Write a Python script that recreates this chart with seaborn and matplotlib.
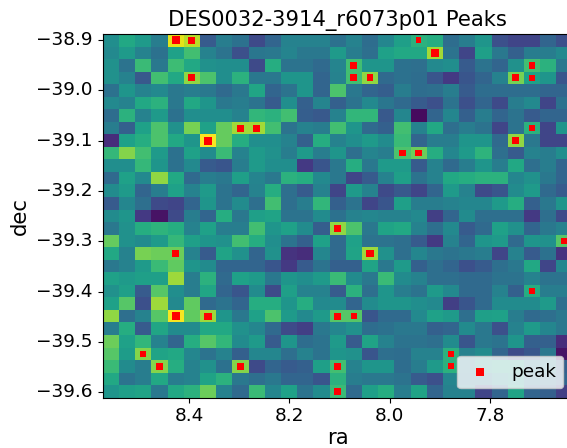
from matplotlib import pyplot as plt
import seaborn as sns
import pandas as pd
import numpy as np

# approximate flux per cell, 0-100 (row 0 is the top)
flux = [
    [47,58,52,40,95,88,26,40,35,20,30,42,42,42, 35,42,33,44,54,62,60,33,40,50,22,18,18,30,22],
    [45,52,42,35,55,68,42,36,22,37,38,43,38,38, 52,40,34,55,58,58,85,36,18,54,38,28,40,40,45],
    [48,36,66,38,67,58,48,47,47,20,60,36,36,32, 43,68,50,50,35,34,45,47,26,36,30,48,68,62,38],
    [48,42,25,68,58,82,70,47,62,38,38,50,50,30, 42,68,82,32,35,33,24,14,24,30,42,78,55,50,24],
    [35,50,42,45,38,40,38,32,38,57,30,36,50,30, 70,38,30,27,40,33,34,40,26,33,33,33,33,30,30],
    [45,42,58,62,38,58,50,38,40,36,26,47,28,43, 28,36,45,37,32,26,22,36,22,30,20,40,45,18,35],
    [33,62,42,52,35,47,47,47,42,64,62,68,27,25, 42,64,64,25,44,0,30,44,28,40,30,36,26,30,30],
    [40,28,55,70,48,78,55,75,85,85,68,36,42,40, 68,50,32,28,68,42,58,34,40,36,18,36,62,18,50],
    [10,55,60,70,58,50,98,75,60,47,47,42,28,60, 42,47,52,46,66,30,40,40,50,50,32,82,38,18,18],
    [65,80,68,52,35,55,46,66,42,52,48,40,52,40, 50,34,43,40,70,76,60,44,52,63,34,26,42,40,47],
    [47,47,65,50,35,45,26,24,40,52,47,47,14,24, 38,60,38,52,52,26,42,32,40,50,40,58,34,40,30],
    [32,55,45,82,58,32,40,38,54,43,38,62,60,45, 38,18,26,42,54,36,42,58,60,62,62,44,48,38,30],
    [46,52,30,40,55,42,52,36,30,42,60,34,26,42, 18,52,42,20,25,18,30,52,42,20,24,46,52,32,26],
    [26,44,34,20,18,30,50,36,46,34,68,34,40,64, 28,36,18,24,54,40,40,42,44,44,52,60,28,38,50],
    [46,50,14,2,20,40,30,60,38,54,56,36,36,46, 35,42,44,42,42,45,16,30,46,34,34,34,14,34,20],
    [38,48,60,63,60,42,55,40,40,68,50,55,46,27, 82,70,38,56,58,42,34,45,26,32,55,48,30,38,42],
    [75,48,46,52,65,54,50,48,68,60,47,36,28,55, 32,55,36,36,34,26,14,42,30,50,52,32,50,48,72],
    [58,42,78,76,76,42,26,56,48,30,48,12,10,44, 32,56,84,48,34,44,38,36,38,40,18,42,26,35,12],
    [38,42,52,66,74,50,46,30,30,30,24,14,26,36, 28,28,56,38,52,28,34,30,22,26,34,38,58,18,44],
    [55,52,54,54,84,40,62,32,55,52,38,50,47,52, 66,46,38,66,46,42,34,34,32,32,36,36,42,36,36],
    [48,54,26,72,47,40,57,30,24,46,20,54,42,42, 26,62,34,50,40,36,52,45,32,32,42,28,60,40,40],
    [55,72,22,84,45,74,32,36,30,60,60,50,60,45, 46,30,46,50,50,47,45,16,24,32,46,46,46,52,34],
    [82,34,42,72,98,74,84,50,38,55,70,52,45,52, 72,72,24,32,32,45,55,52,34,54,55,40,32,34,38],
    [40,60,26,57,46,46,58,58,48,44,32,20,16,38, 44,48,33,35,38,38,28,30,46,38,22,42,52,44,38],
    [76,55,64,42,30,60,72,64,46,52,26,50,33,36, 52,26,56,42,36,36,34,46,24,38,36,50,28,28,10],
    [72,53,80,56,58,44,36,42,28,44,44,34,42,36, 50,48,24,34,33,42,42,62,42,46,30,20,24,38,2],
    [66,46,40,80,60,42,48,35,80,20,30,26,28,54, 68,42,50,50,33,40,52,62,40,50,55,55,42,42,28],
    [58,36,40,58,40,42,56,62,38,34,38,30,30,24, 62,40,38,38,36,26,22,44,38,38,45,50,38,35,30],
    [50,54,56,38,58,62,76,42,32,66,44,55,36,46, 66,32,54,60,40,56,30,42,42,18,30,56,30,28,16],
]

peak_col = [4,5,5,8,9,6,19,20,15,15,16,25,26,26,26,25,18,19,4,4,6,2,3,8,14,28,16,26,14,15,21,21,14,14]
peak_row = [0,0,3,7,7,8,0,1,2,3,3,3,3,2,7,8,9,9,17,22,22,25,26,26,15,16,17,20,22,22,25,26,26,28]
peak_s = [34,25,24,26,26,34,17,30,24,24,24,24,21,21,21,28,22,22,24,34,26,21,24,26,24,21,28,18,23,21,18,18,21,23]

ra_ticks = [8.4, 8.2, 8.0, 7.8]
dec_ticks = [-38.9, -39.0, -39.1, -39.2, -39.3, -39.4, -39.5, -39.6]

# sky position of the grid's top left corner and size of one cell
ra0, dra = 8.572, 0.03227
dec0, ddec = -38.888, 0.02493

peaks = pd.DataFrame({"x": np.array(peak_col) + 0.5, "y": np.array(peak_row) + 0.5})

fig = plt.figure(figsize=(5.67, 4.48), dpi=100)
# right edge of the axes runs off the canvas, like the reference
ax = fig.add_axes([102.7/567, 1 - 397.7/448, 469.8/567, 363.7/448])

sns.heatmap(pd.DataFrame(flux), ax=ax, cmap="viridis", vmin=-3, vmax=99, cbar=False)
sns.scatterplot(data=peaks, x="x", y="y", ax=ax, color="red", marker="s", s=peak_s, linewidth=0, label="peak")

for spine in ax.spines.values():
    spine.set_visible(True)

ax.set_xticks([(ra0 - t) / dra for t in ra_ticks])
ax.set_xticklabels([f"{t:.1f}" for t in ra_ticks], rotation=0, fontsize=13.3)
ax.set_yticks([(dec0 - t) / ddec for t in dec_ticks])
ax.set_yticklabels([f"\u2212{abs(t):.1f}" for t in dec_ticks], rotation=0, fontsize=13.3)
ax.set_xlabel("ra", fontsize=15.2, labelpad=2)
ax.set_ylabel("dec", fontsize=15.2, labelpad=5)
ax.set_title("DES0032-3914_r6073p01 Peaks", fontsize=15.2, pad=6)
ax.legend(loc="lower right", fontsize=13.3, handlelength=1.7, markerscale=1.08)

plt.savefig("out.png", dpi=100)
